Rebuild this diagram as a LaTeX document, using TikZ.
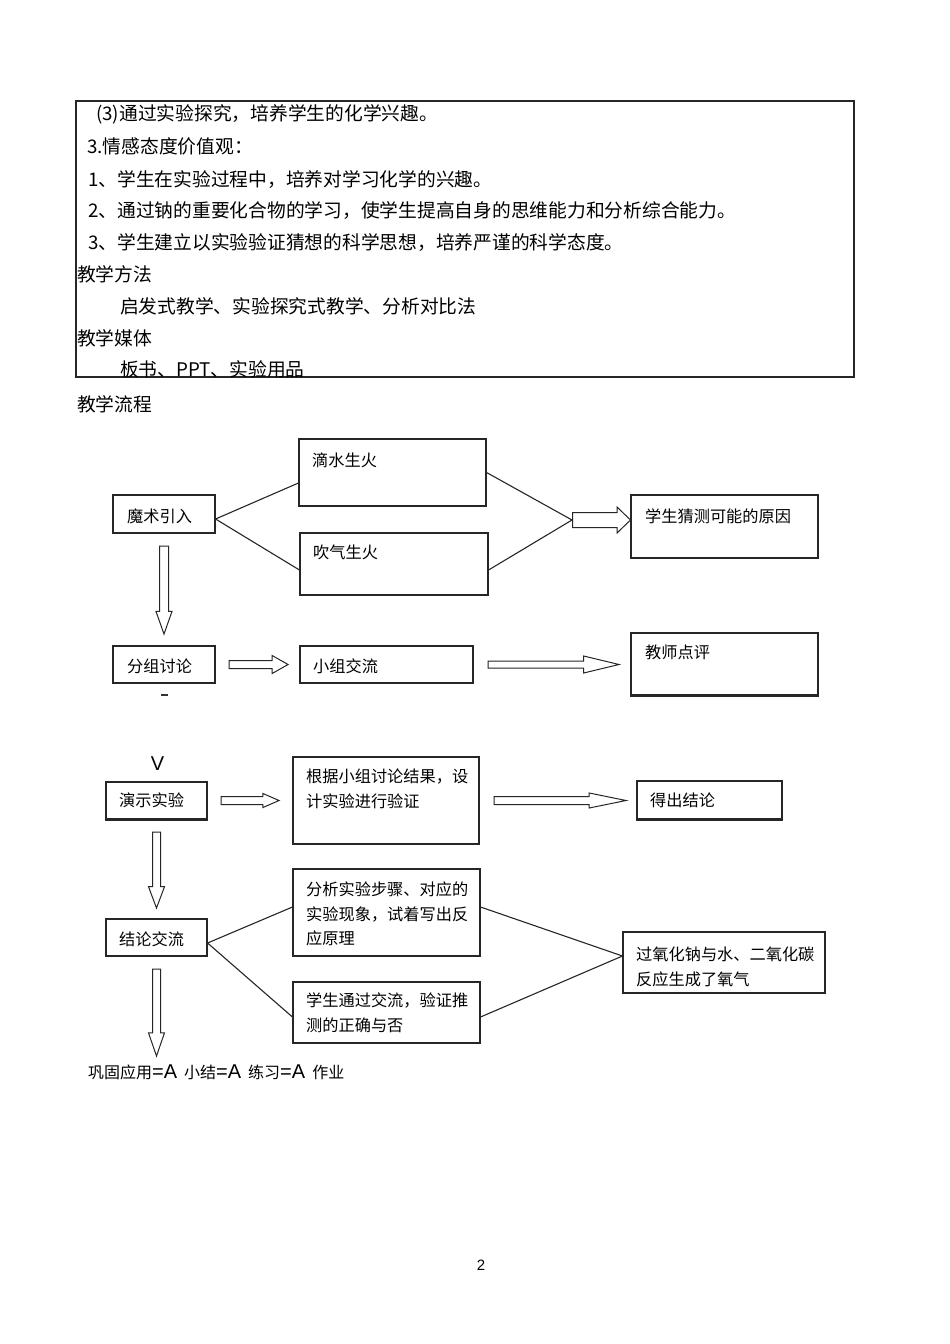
\documentclass[tikz,border=0pt]{standalone}
\usepackage{fontspec}
\setmainfont{Noto Sans CJK SC}
\newfontfamily\sanslatin{Liberation Sans}
\usetikzlibrary{shapes.arrows,positioning}
\tikzset{
  box/.style={draw=black!85, line width=1.1pt, inner sep=0pt},
  link/.style={draw=black!85, line width=1.1pt},
  heavy/.style={draw=black!85, line width=2.6pt},
  body/.style={anchor=base west, inner sep=0pt, font=\fontsize{18.75}{22}\selectfont},
  flow/.style={anchor=base west, inner sep=0pt, font=\fontsize{16.2}{20}\selectfont},
  hollow/.style n args={4}{single arrow, draw=black!85, line width=1pt, anchor=tail,
    inner xsep=0pt, inner ysep=#2, single arrow head extend=#3,
    single arrow tip angle=#4, single arrow head indent=0pt,
    minimum height=#1, minimum width=0pt},
}
\newcommand{\eqA}{{\sanslatin\fontsize{20}{20}\selectfont =A}}
\begin{document}
\begin{tikzpicture}[x=1pt,y=-1pt]
        \fill[white] (0,0) rectangle (950,1344);
        \useasboundingbox (0,0) rectangle (950,1344);

        \draw[box] (76,101) rectangle (854,377);
        \node[body] (T1)  at (96,120)  {(3)通过实验探究，培养学生的化学兴趣。};
        \node[body] (T2)  at (87,153)  {3.情感态度价值观：};
        \node[body] (T3)  at (88,186)  {1、学生在实验过程中，培养对学习化学的兴趣。};
        \node[body] (T4)  at (88,217)  {2、通过钠的重要化合物的学习，使学生提高自身的思维能力和分析综合能力。};
        \node[body] (T5)  at (88,249)  {3、学生建立以实验验证猜想的科学思想，培养严谨的科学态度。};
        \node[body] (T6)  at (77,281)  {教学方法};
        \node[body] (T7)  at (120,313) {启发式教学、实验探究式教学、分析对比法};
        \node[body] (T8)  at (77,345)  {教学媒体};
        \node[body] (T9)  at (120,376) {板书、PPT、实验用品};
        \node[body] (T10) at (77,411)  {教学流程};

        \node[box,minimum width=102pt,minimum height=38pt] (MI) at (164,514)     {};
        \node[box,minimum width=187pt,minimum height=67pt] (DW) at (392.5,472.5) {};
        \node[box,minimum width=188pt,minimum height=62pt] (BA) at (394,564)     {};
        \node[box,minimum width=187pt,minimum height=63pt] (GC) at (724.5,526.5) {};
        \node[flow] (MIL) at (127,522) {魔术引入};
        \node[flow] (DWL) at (312,466) {滴水生火};
        \node[flow] (BAL) at (313,558) {吹气生火};
        \node[flow] (GCL) at (645,522) {学生猜测可能的原因};

        \coordinate (F1) at ([yshift=-5pt]MI.east);
        \draw[link] (F1) -- ([yshift=-10.5pt]DW.west);
        \draw[link] (F1) -- ([yshift=-6pt]BA.west);
        \coordinate (J1) at (572,520);
        \draw[link] (DW.east) -- (J1);
        \draw[link] ([yshift=-6pt]BA.east) -- (J1);
        \node[hollow={58pt}{7pt}{5.5pt}{88}] (A4) at (J1) {};

        \node[box,minimum width=102pt,minimum height=37pt] (GD) at (164,664.5)   {};
        \node[box,minimum width=173pt,minimum height=37pt] (GS) at (386.5,664.5) {};
        \node[box,minimum width=187pt,minimum height=62pt] (TC) at (724.5,664)   {};
        \draw[heavy] (TC.south west) -- (TC.south east);
        \node[flow] (GDL) at (127,672) {分组讨论};
        \node[flow] (GSL) at (313,672) {小组交流};
        \node[flow] (TCL) at (645,658) {教师点评};

        \node[hollow={88pt}{4pt}{3.5pt}{39},rotate=-90] (A1) at ([yshift=-12pt]MI.south) {};
        \node[hollow={59pt}{3.5pt}{5pt}{59}] (A2) at ([xshift=13pt]GD.east) {};
        \node[hollow={131pt}{3pt}{5pt}{27}] (A3) at ([xshift=14pt]GS.east) {};
        \draw[line width=2pt,black!80] (161,695) -- (168,695);
        \node[inner sep=0pt,font=\sanslatin\fontsize{20}{20}\selectfont] (V) at (157.5,764) {V};

        \node[box,minimum width=101pt,minimum height=37pt] (DE) at (156.5,800.5) {};
        \node[box,minimum width=186pt,minimum height=87pt] (DV) at (386,800.5)   {};
        \node[box,minimum width=145pt,minimum height=38pt] (RC) at (709.5,800)   {};
        \draw[heavy] (DE.south west) -- (DE.south east);
        \draw[heavy] (RC.south west) -- (RC.south east);
        \node[flow] (DEL) at (119,806) {演示实验};
        \node[flow] (DVL) at (306,782) {根据小组讨论结果，设};
        \node[flow] (DVM) at (306,807) {计实验进行验证};
        \node[flow] (RCL) at (650,806) {得出结论};
        \node[hollow={58pt}{3.5pt}{3pt}{47}] (A6) at ([xshift=13pt]DE.east) {};
        \node[hollow={132pt}{3.5pt}{3.5pt}{23}] (A7) at ([xshift=14pt]DV.east) {};
        \node[hollow={76pt}{3.5pt}{4pt}{41},rotate=-90] (A5) at ([yshift=-12pt]DE.south) {};

        \node[box,minimum width=101pt,minimum height=37pt] (CS) at (156.5,937.5) {};
        \node[box,minimum width=187pt,minimum height=87pt] (AR) at (386.5,912.5) {};
        \node[box,minimum width=187pt,minimum height=61pt] (SV) at (386.5,1012.5) {};
        \node[box,minimum width=202pt,minimum height=61pt] (OX) at (724,962.5)   {};
        \node[flow] (CSL) at (119,945)  {结论交流};
        \node[flow] (ARL) at (306,895)  {分析实验步骤、对应的};
        \node[flow] (ARM) at (306,920)  {实验现象，试着写出反};
        \node[flow] (ARN) at (306,944)  {应原理};
        \node[flow] (SVL) at (306,1006) {学生通过交流，验证推};
        \node[flow] (SVM) at (306,1031) {测的正确与否};
        \node[flow] (OXL) at (636,960)  {过氧化钠与水、二氧化碳};
        \node[flow] (OXM) at (636,985)  {反应生成了氧气};

        \coordinate (F2) at ([yshift=-5.5pt]CS.east);
        \draw[link] (F2) -- ([yshift=5.5pt]AR.west);
        \draw[link] (F2) -- ([yshift=-4.5pt]SV.west);
        \coordinate (J2) at ([yshift=6.5pt]OX.west);
        \draw[link] ([yshift=5.5pt]AR.east) -- (J2);
        \draw[link] ([yshift=-4.5pt]SV.east) -- (J2);

        \node[hollow={87pt}{3.5pt}{4pt}{38},rotate=-90] (A8) at ([yshift=-12pt]CS.south) {};
        \node[anchor=base west,inner sep=0pt,font=\fontsize{16}{18}\selectfont] (NX) at (88,1078)
          {巩固应用\eqA\hspace{7pt}小结\eqA\hspace{7pt}练习\eqA\hspace{7pt}作业};

        \node[inner sep=0pt,font=\sanslatin\fontsize{15}{15}\selectfont] (PG) at (481,1265.5) {2};
      \end{tikzpicture}
\end{document}
